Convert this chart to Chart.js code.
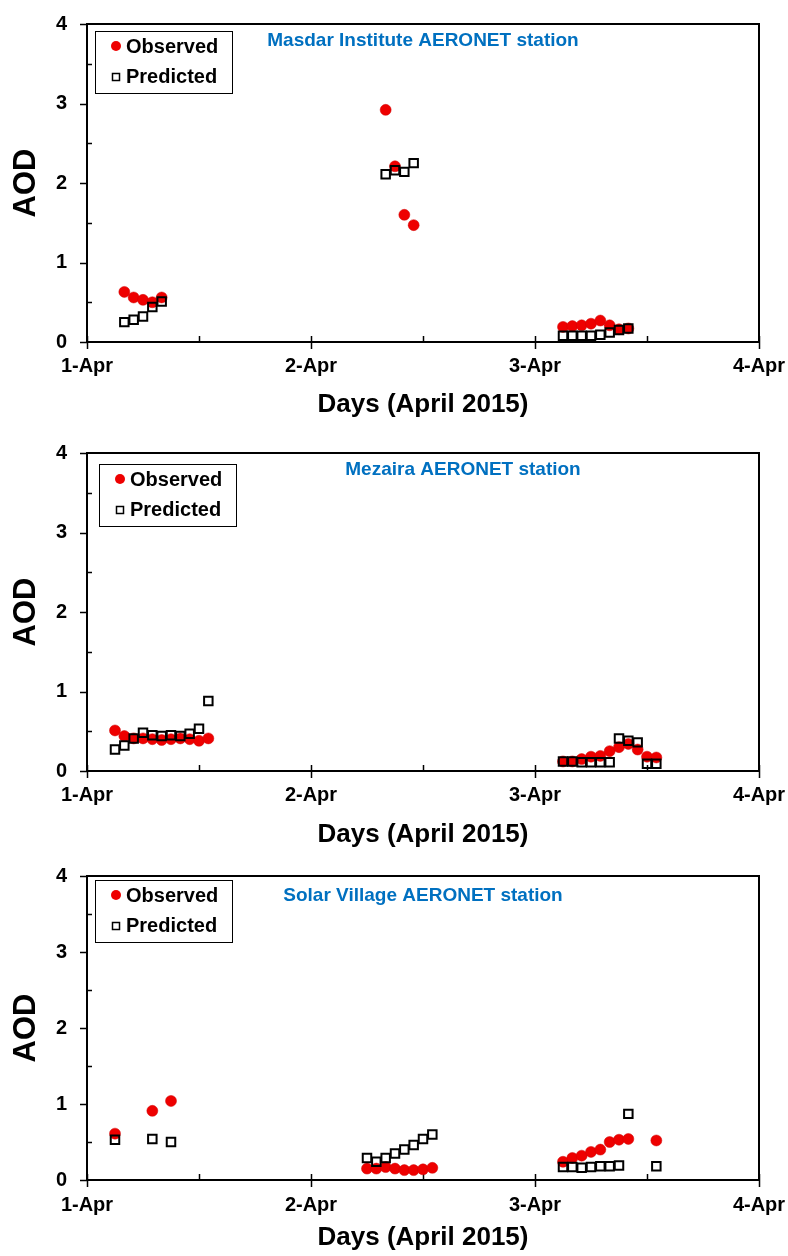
<!DOCTYPE html>
<html>
<head>
<meta charset="utf-8">
<script src="https://cdn.jsdelivr.net/npm/chart.js@4/dist/chart.umd.min.js"></script>
<style>
html,body{margin:0;padding:0;background:#fff;}
body{width:788px;height:1256px;position:relative;overflow:hidden;}
canvas{position:absolute;left:0;display:block;}
</style>
</head>
<body>
<canvas id="c1" width="788" height="424" style="top:0px"></canvas>
<canvas id="c2" width="788" height="425" style="top:429px"></canvas>
<canvas id="c3" width="788" height="404" style="top:852px"></canvas>
<script>
// ---------- data (hours since 1-Apr-2015 00:00) ----------
const xTickLabels = ['1-Apr', '2-Apr', '3-Apr', '4-Apr'];
const yTickLabels = ['0', '1', '2', '3', '4'];
const seriesNames = ['Observed', 'Predicted'];
const xTitle = 'Days (April 2015)';
const yTitle = 'AOD';

const masdarTitle = 'Masdar Institute AERONET station';
const masdarHours = [4, 5, 6, 7, 8, 32, 33, 34, 35, 51, 52, 53, 54, 55, 56, 57, 58];
const masdarObserved = [0.63, 0.56, 0.53, 0.50, 0.56, 2.92, 2.21, 1.60, 1.47, 0.19, 0.20, 0.21, 0.23, 0.27, 0.21, 0.16, 0.17];
const masdarPredicted = [0.25, 0.28, 0.32, 0.44, 0.51, 2.11, 2.16, 2.14, 2.25, 0.08, 0.08, 0.08, 0.08, 0.09, 0.12, 0.15, 0.17];

const mezairaTitle = 'Mezaira AERONET station';
const mezairaHours = [3, 4, 5, 6, 7, 8, 9, 10, 11, 12, 13, 51, 52, 53, 54, 55, 56, 57, 58, 59, 60, 61];
const mezairaObserved = [0.51, 0.44, 0.41, 0.41, 0.40, 0.39, 0.40, 0.41, 0.40, 0.38, 0.41, 0.12, 0.12, 0.15, 0.18, 0.19, 0.25, 0.30, 0.34, 0.27, 0.18, 0.17];
const mezairaPredicted = [0.27, 0.32, 0.41, 0.48, 0.45, 0.44, 0.45, 0.44, 0.47, 0.53, 0.88, 0.12, 0.12, 0.11, 0.11, 0.11, 0.11, 0.41, 0.38, 0.36, 0.09, 0.09];

const solarTitle = 'Solar Village AERONET station';
const solarHours = [3, 7, 9, 30, 31, 32, 33, 34, 35, 36, 37, 51, 52, 53, 54, 55, 56, 57, 58, 61];
const solarObserved = [0.61, 0.91, 1.04, 0.15, 0.15, 0.17, 0.15, 0.13, 0.13, 0.14, 0.16, 0.24, 0.29, 0.32, 0.37, 0.40, 0.50, 0.53, 0.54, 0.52];
const solarPredicted = [0.53, 0.54, 0.50, 0.29, 0.24, 0.29, 0.35, 0.40, 0.46, 0.54, 0.60, 0.17, 0.17, 0.16, 0.17, 0.18, 0.18, 0.19, 0.87, 0.18];

// ---------- styling ----------
const FONT = "'Liberation Sans', Arial, sans-serif";
const RED = '#EE0000';

const framePlugin = {
  id: 'frame',
  beforeDatasetsDraw(chart) {
    const {ctx, chartArea: a, scales: {x, y}} = chart;
    ctx.save();
    ctx.strokeStyle = '#000';
    ctx.lineWidth = 2;
    ctx.strokeRect(a.left, a.top, a.right - a.left, a.bottom - a.top);
    ctx.lineWidth = 1.5;
    ctx.beginPath();
    x.ticks.forEach(t => {
      const px = Math.round(x.getPixelForValue(t.value)) + 0.5;
      if (t.value % 24 === 0) { ctx.moveTo(px, a.bottom - 6); ctx.lineTo(px, a.bottom + 7); }
      else { ctx.moveTo(px, a.bottom); ctx.lineTo(px, a.bottom - 6); }
    });
    y.ticks.forEach(t => {
      const py = Math.round(y.getPixelForValue(t.value)) + 0.5;
      if (Number.isInteger(t.value)) { ctx.moveTo(a.left - 7, py); ctx.lineTo(a.left, py); }
      else { ctx.moveTo(a.left, py); ctx.lineTo(a.left + 5, py); }
    });
    ctx.stroke();
    ctx.restore();
  },
  afterDraw(chart, args, opts) {
    const {ctx, chartArea: a} = chart;
    ctx.save();
    // station title
    ctx.fillStyle = '#0070C0';
    ctx.font = 'bold 19px ' + FONT;
    ctx.textAlign = 'center';
    ctx.textBaseline = 'middle';
    ctx.fillText(opts.station, opts.stationX, a.top + opts.stationDy);
    // legend box
    const bx = a.left + opts.legX, by = a.top + opts.legY, bw = 137, bh = 62;
    ctx.fillStyle = '#fff';
    ctx.fillRect(bx, by, bw, bh);
    ctx.strokeStyle = '#000';
    ctx.lineWidth = 1;
    ctx.strokeRect(bx + 0.5, by + 0.5, bw, bh);
    const ds = chart.data.datasets;
    ctx.font = 'bold 20px ' + FONT;
    ctx.textAlign = 'left';
    // Observed
    ctx.beginPath();
    ctx.fillStyle = ds[0].backgroundColor;
    ctx.arc(bx + 21, by + 15, 5, 0, Math.PI * 2);
    ctx.fill();
    ctx.fillStyle = '#000';
    ctx.fillText(ds[0].label, bx + 31, by + 16);
    // Predicted
    ctx.lineWidth = 1.5;
    ctx.strokeRect(bx + 17.5, by + 42.5, 7, 7);
    ctx.fillText(ds[1].label, bx + 31, by + 46);
    ctx.restore();
  }
};

function zeroPad(s) {
  s.paddingLeft = 0; s.paddingRight = 0; s.paddingTop = 0; s.paddingBottom = 0;
}

function makeChart(id, hours, observed, predicted, opt) {
  const canvas = document.getElementById(id);
  const H = canvas.height;
  return new Chart(canvas, {
    type: 'scatter',
    data: {
      datasets: [
        {
          label: seriesNames[0],
          data: hours.map((h, i) => ({x: h, y: observed[i]})),
          backgroundColor: RED,
          borderColor: '#D00000',
          borderWidth: 0.5,
          pointStyle: 'circle',
          pointRadius: 5.5,
          order: 2
        },
        {
          label: seriesNames[1],
          data: hours.map((h, i) => ({x: h, y: predicted[i]})),
          backgroundColor: 'rgba(0,0,0,0)',
          borderColor: '#000',
          borderWidth: 2,
          pointStyle: 'rect',
          pointRadius: 6,
          order: 1
        }
      ]
    },
    options: {
      responsive: false,
      animation: false,
      devicePixelRatio: 1,
      layout: {padding: {top: 24, right: 29, bottom: 0, left: 0}},
      plugins: {
        legend: {display: false},
        tooltip: {enabled: false},
        frame: opt.frame
      },
      scales: {
        x: {
          type: 'linear',
          min: 0, max: 72,
          grid: {display: false, drawTicks: false},
          border: {display: false},
          afterFit(s) { s.height = H - opt.bottom; zeroPad(s); },
          ticks: {
            stepSize: 12,
            autoSkip: false,
            maxRotation: 0,
            padding: opt.tickPad,
            color: '#000',
            font: {family: FONT, size: 20, weight: 'bold'},
            callback: v => (v % 24 === 0 ? xTickLabels[v / 24] : '')
          },
          title: {
            display: true,
            text: xTitle,
            color: '#000',
            font: {family: FONT, size: 26, weight: 'bold'},
            padding: {top: 0, bottom: opt.titlePad}
          }
        },
        y: {
          min: 0, max: 4,
          grid: {display: false, drawTicks: false},
          border: {display: false},
          afterFit(s) { s.width = 87; zeroPad(s); },
          ticks: {
            stepSize: 0.5,
            padding: 20,
            color: '#000',
            font: {family: FONT, size: 20, weight: 'bold'},
            callback: v => (Number.isInteger(v) ? yTickLabels[v] : '')
          },
          title: {
            display: true,
            text: yTitle,
            color: '#000',
            font: {family: FONT, size: 31, weight: 'bold'},
            padding: {top: 8, bottom: 0}
          }
        }
      }
    },
    plugins: [framePlugin]
  });
}

makeChart('c1', masdarHours, masdarObserved, masdarPredicted, {
  bottom: 342, tickPad: 12, titlePad: 4,
  frame: {station: masdarTitle, stationX: 423, stationDy: 17, legX: 8, legY: 7}
});
makeChart('c2', mezairaHours, mezairaObserved, mezairaPredicted, {
  bottom: 342, tickPad: 12, titlePad: 4,
  frame: {station: mezairaTitle, stationX: 463, stationDy: 17, legX: 12, legY: 11}
});
makeChart('c3', solarHours, solarObserved, solarPredicted, {
  bottom: 328, tickPad: 13, titlePad: 2.4,
  frame: {station: solarTitle, stationX: 423, stationDy: 20, legX: 8, legY: 4}
});
</script>
</body>
</html>
